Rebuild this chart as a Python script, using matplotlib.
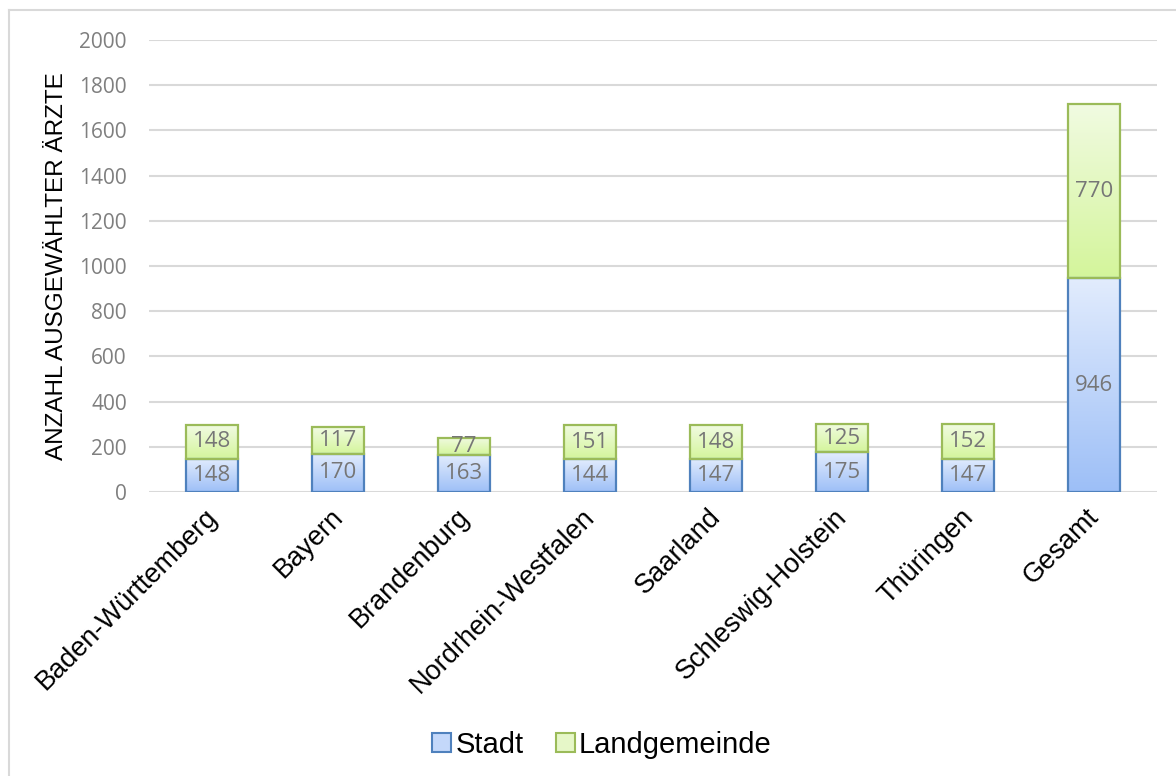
import numpy as np
import matplotlib
matplotlib.use("Agg")
import matplotlib.pyplot as plt
from matplotlib.colors import LinearSegmentedColormap
from matplotlib.patches import Patch
from matplotlib.lines import Line2D
from matplotlib.transforms import ScaledTranslation

categories = ["Baden-Württemberg", "Bayern", "Brandenburg", "Nordrhein-Westfalen",
              "Saarland", "Schleswig-Holstein", "Thüringen", "Gesamt"]
stadt = [148, 170, 163, 144, 147, 175, 147, 946]
land = [148, 117, 77, 151, 148, 125, 152, 770]
yticks = [0, 200, 400, 600, 800, 1000, 1200, 1400, 1600, 1800, 2000]

fig = plt.figure(figsize=(11.76, 7.76), dpi=100)
ax = fig.add_axes([149/1176, 1-492/776, (1157-149)/1176, (492-40)/776])

# figure border (top and left visible)
fig.add_artist(Line2D([9/1176, 9/1176], [0, 1-10/776], transform=fig.transFigure,
                      color="#D9D9D9", lw=1.5))
fig.add_artist(Line2D([9/1176, 1], [1-10/776, 1-10/776], transform=fig.transFigure,
                      color="#D9D9D9", lw=1.5))

blue_cmap = LinearSegmentedColormap.from_list("b", ["#9DBFF7", "#E2ECFD"])
green_cmap = LinearSegmentedColormap.from_list("g", ["#D4F59B", "#F1FBE2"])
grad = np.linspace(0, 1, 256).reshape(-1, 1)

x = np.arange(len(categories))
w = 0.41
ax.set_xlim(-0.5, len(categories) - 0.5)
ax.set_ylim(0, 2000)

lab_font = dict(fontsize=16, color="#767676", family="Open Sans", zorder=4,
                ha="center", va="center")
for i in range(len(categories)):
    segs = [(0, stadt[i], blue_cmap, "#4F81BD"),
            (stadt[i], stadt[i] + land[i], green_cmap, "#9BBB59")]
    for y0, y1, cmap, ec in segs:
        ax.imshow(grad, extent=[x[i]-w/2, x[i]+w/2, y0, y1], origin="lower",
                  cmap=cmap, aspect="auto", zorder=2, interpolation="bicubic")
        ax.bar(x[i], y1 - y0, bottom=y0, width=w, facecolor="none",
               edgecolor=ec, linewidth=1.6, zorder=3)
    ax.text(x[i], stadt[i] / 2, str(stadt[i]), **lab_font)
    ax.text(x[i], stadt[i] + land[i] / 2, str(land[i]), **lab_font)

ax.set_xlim(-0.5, len(categories) - 0.5)
ax.set_ylim(0, 2000)
ax.set_yticks(yticks)
ax.set_yticklabels([str(t) for t in yticks], fontsize=15, color="#7F7F7F", family="Open Sans")
ax.yaxis.grid(True, color="#D9D9D9", linewidth=1.5, zorder=0)
ax.set_axisbelow(True)
ax.tick_params(axis="y", length=0, pad=16)
ax.tick_params(axis="x", length=0, pad=5)
ax.set_xticks(x)
ax.set_xticklabels(categories, rotation=45, ha="right", rotation_mode="anchor",
                   fontsize=19.5, family="Liberation Sans", color="black")
offset = ScaledTranslation(-8/100, -5/100, fig.dpi_scale_trans)
for lbl in ax.get_xticklabels():
    lbl.set_transform(lbl.get_transform() + offset)
for s in ax.spines.values():
    s.set_visible(False)

ax.set_ylabel("ANZAHL AUSGEWÄHLTER ÄRZTE", fontsize=17.5, family="Liberation Sans",
              color="black", labelpad=8)

handles = [Patch(facecolor="#C4D8FA", edgecolor="#4F81BD", linewidth=1.5, label="Stadt"),
           Patch(facecolor="#E6F7C8", edgecolor="#9BBB59", linewidth=1.5, label="Landgemeinde")]
fig.legend(handles=handles, loc="center", bbox_to_anchor=(602/1176, 1-745/776), ncol=2,
           frameon=False, prop={"family": "Liberation Sans", "size": 21},
           handlelength=0.65, handleheight=0.65, handletextpad=0.15, columnspacing=1.1)

fig.savefig("out.png", dpi=100)
